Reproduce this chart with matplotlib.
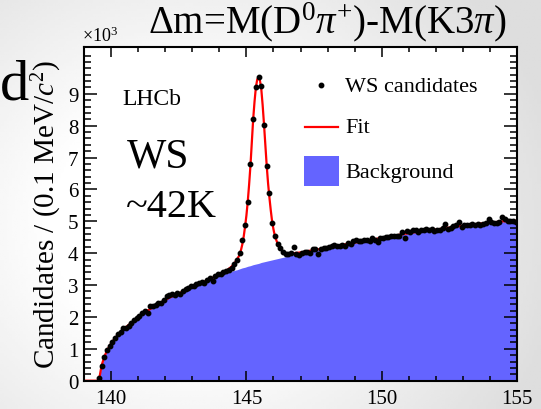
import numpy as np
import matplotlib
matplotlib.use('Agg')
from matplotlib import pyplot as plt
from matplotlib.patches import Rectangle
from matplotlib.lines import Line2D

plt.rcParams['font.family'] = ['Liberation Serif', 'DejaVu Serif']
plt.rcParams['mathtext.fontset'] = 'custom'
plt.rcParams['mathtext.rm'] = 'Liberation Serif'
plt.rcParams['mathtext.it'] = 'Liberation Serif:italic'

# delta m bins of 0.1 MeV from 139 to 155, values in units of 10^3 candidates
dm_lo, dm_hi, bin_w = 139.0, 155.0, 0.1

ws_counts = [
    0, 0, 0, 0, 0, 0.07, 0.45, 0.73, 0.95, 1.08,
    1.23, 1.34, 1.46, 1.54, 1.66, 1.66, 1.71, 1.81, 1.89, 1.97,
    2.04, 2.13, 2.20, 2.13, 2.33, 2.33, 2.37, 2.43, 2.43, 2.52,
    2.65, 2.68, 2.72, 2.68, 2.75, 2.72, 2.83, 2.87, 2.90, 2.96,
    2.98, 3.04, 3.08, 3.11, 3.08, 3.16, 3.23, 3.14, 3.29, 3.34,
    3.34, 3.41, 3.44, 3.48, 3.54, 3.66, 3.79, 4.00, 4.40, 4.90,
    5.60, 6.80, 8.20, 9.20, 9.54, 9.23, 8.02, 6.75, 5.88, 4.95,
    4.55, 4.30, 4.15, 4.04, 3.97, 3.99, 4.02, 4.20, 3.99, 3.95,
    4.02, 4.05, 4.03, 4.02, 4.12, 4.12, 3.97, 4.12, 4.17, 4.15,
    4.18, 4.24, 4.27, 4.22, 4.22, 4.27, 4.22, 4.32, 4.30, 4.37,
    4.42, 4.39, 4.39, 4.41, 4.42, 4.37, 4.47, 4.42, 4.35, 4.47,
    4.49, 4.52, 4.52, 4.55, 4.53, 4.54, 4.55, 4.66, 4.49, 4.70,
    4.68, 4.73, 4.73, 4.68, 4.73, 4.72, 4.76, 4.73, 4.76, 4.70,
    4.74, 4.73, 4.78, 4.93, 4.76, 4.80, 4.85, 4.88, 4.98, 4.83,
    4.90, 4.90, 4.88, 4.93, 4.90, 4.93, 4.90, 4.93, 4.95, 5.06,
    4.98, 4.96, 4.96, 4.97, 5.13, 5.06, 5.02, 5.02, 5.00, 4.98,
]

fit_total = [
    0, 0, 0, 0, 0, 0.0, 0.48, 0.75, 0.95, 1.10,
    1.23, 1.34, 1.44, 1.53, 1.61, 1.68, 1.75, 1.82, 1.89, 1.96,
    2.02, 2.08, 2.14, 2.20, 2.25, 2.30, 2.36, 2.41, 2.46, 2.51,
    2.56, 2.60, 2.64, 2.68, 2.72, 2.76, 2.80, 2.84, 2.88, 2.92,
    2.96, 3.00, 3.04, 3.07, 3.11, 3.15, 3.19, 3.23, 3.27, 3.31,
    3.35, 3.40, 3.45, 3.51, 3.58, 3.67, 3.80, 3.95, 4.28, 4.83,
    5.62, 6.75, 8.20, 9.20, 9.52, 9.15, 8.05, 6.75, 5.75, 5.00,
    4.55, 4.30, 4.15, 4.06, 4.01, 3.99, 3.99, 4.00, 4.01, 4.02,
    4.03, 4.05, 4.06, 4.08, 4.09, 4.11, 4.12, 4.14, 4.15, 4.17,
    4.18, 4.20, 4.22, 4.23, 4.25, 4.26, 4.28, 4.29, 4.31, 4.32,
    4.34, 4.35, 4.37, 4.38, 4.40, 4.41, 4.43, 4.44, 4.46, 4.47,
    4.49, 4.50, 4.52, 4.53, 4.55, 4.56, 4.58, 4.59, 4.61, 4.62,
    4.64, 4.65, 4.66, 4.68, 4.69, 4.70, 4.71, 4.72, 4.73, 4.74,
    4.75, 4.76, 4.78, 4.79, 4.80, 4.81, 4.82, 4.83, 4.85, 4.86,
    4.87, 4.88, 4.89, 4.90, 4.91, 4.92, 4.93, 4.94, 4.95, 4.96,
    4.96, 4.97, 4.98, 4.99, 5.00, 5.00, 5.01, 5.01, 5.02, 5.02,
]

# extra fit samples on the bin edges across the peak
fit_edge_dm = [144.8, 144.9, 145.0, 145.1, 145.2, 145.3, 145.4,
               145.5, 145.6, 145.7, 145.8, 145.9, 146.0, 146.1]
fit_edge = [4.10, 4.52, 5.18, 6.15, 7.50, 8.75, 9.45,
            9.42, 8.65, 7.40, 6.20, 5.35, 4.75, 4.42]

bkg = [
    0, 0, 0, 0, 0, 0.0, 0.48, 0.75, 0.95, 1.10,
    1.23, 1.34, 1.44, 1.53, 1.61, 1.68, 1.75, 1.82, 1.89, 1.96,
    2.02, 2.08, 2.14, 2.20, 2.25, 2.30, 2.36, 2.41, 2.46, 2.51,
    2.56, 2.60, 2.64, 2.68, 2.72, 2.76, 2.80, 2.84, 2.88, 2.92,
    2.96, 3.00, 3.04, 3.07, 3.11, 3.15, 3.19, 3.23, 3.27, 3.31,
    3.31, 3.34, 3.37, 3.40, 3.43, 3.46, 3.48, 3.51, 3.54, 3.56,
    3.59, 3.61, 3.64, 3.66, 3.68, 3.71, 3.73, 3.75, 3.77, 3.79,
    3.81, 3.83, 3.85, 3.87, 3.89, 3.91, 3.93, 3.95, 3.96, 3.98,
    3.99, 4.01, 4.03, 4.05, 4.06, 4.08, 4.10, 4.12, 4.13, 4.15,
    4.16, 4.18, 4.20, 4.21, 4.23, 4.24, 4.26, 4.27, 4.29, 4.30,
    4.32, 4.34, 4.35, 4.37, 4.38, 4.40, 4.41, 4.43, 4.44, 4.46,
    4.48, 4.49, 4.51, 4.52, 4.54, 4.55, 4.57, 4.58, 4.60, 4.61,
    4.63, 4.64, 4.65, 4.67, 4.68, 4.69, 4.70, 4.71, 4.72, 4.73,
    4.74, 4.75, 4.77, 4.78, 4.79, 4.80, 4.81, 4.82, 4.84, 4.85,
    4.86, 4.87, 4.88, 4.89, 4.90, 4.91, 4.92, 4.93, 4.94, 4.95,
    4.95, 4.96, 4.97, 4.98, 4.99, 4.99, 5.00, 5.00, 5.01, 5.01,
]

ws = np.array(ws_counts)
fit = np.array(fit_total)
bg = np.array(bkg)
centers = dm_lo + bin_w / 2 + bin_w * np.arange(len(ws))

blue = '#6464ff'

fig = plt.figure(figsize=(5.41, 4.10), dpi=100)

# slide backdrop: white centre fading to light grey at the edges
bgax = fig.add_axes([0, 0, 1, 1], zorder=-10)
gx, gy = np.meshgrid(np.linspace(0, 1, 200), np.linspace(0, 1, 150))
r = np.hypot((gx - 0.35) / 1.0, (gy - 0.45) / 1.2)
shade = 1.0 - 0.13 * np.clip((r - 0.25) / 0.45, 0, 1)
bgax.imshow(shade, cmap='gray', vmin=0, vmax=1, extent=[0, 1, 0, 1],
            origin='lower', aspect='auto')
bgax.axis('off')

ax = fig.add_axes([0.1553, 0.069, 0.8004, 0.814])
ax.set_facecolor('white')

# background component
xb = np.append(centers, dm_hi)
yb = np.append(bg, bg[-1])
ax.fill_between(xb, 0, yb, color=blue, lw=0, zorder=1)

# total fit
fx = np.concatenate([[dm_lo], centers, fit_edge_dm, [dm_hi]])
fy = np.concatenate([[fit[0]], fit, fit_edge, [fit[-1]]])
order = np.argsort(fx)
ax.plot(fx[order], fy[order], color='red', lw=1.6, zorder=2)

# data
sel = ws > 0
ax.plot(centers[sel], ws[sel], 'o', color='black', ms=3.2, zorder=3)

ax.set_xlim(dm_lo, dm_hi)
ax.set_ylim(0, 10.47)
ax.set_xticks([140, 145, 150, 155])
ax.set_xticks(np.arange(139, 156, 1), minor=True)
ax.set_yticks(np.arange(0, 10, 1))
ax.set_yticks(np.arange(0, 10.4, 0.2), minor=True)
ax.tick_params(which='both', direction='in', top=True, right=True,
               width=1.1, labelsize=15)
ax.tick_params(axis='x', which='major', length=7.2, pad=6)
ax.tick_params(axis='x', which='minor', length=3.6)
ax.tick_params(axis='y', which='major', length=9.4, pad=4)
ax.tick_params(axis='y', which='minor', length=4.7)
for s in ax.spines.values():
    s.set_linewidth(1.5)

ax.set_ylabel(r'Candidates / (0.1 MeV/$c^2$)', fontsize=21, labelpad=3)
ax.text(-0.004, 1.006, r'$\times$10$^{3}$', transform=ax.transAxes,
        fontsize=13, ha='left', va='bottom')

ax.text(0.088, 0.847, 'LHCb', transform=ax.transAxes, fontsize=17,
        ha='left', va='center')
ax.text(0.100, 0.673, 'WS', transform=ax.transAxes, fontsize=30,
        ha='left', va='center')
ax.text(0.097, 0.523, '~42K', transform=ax.transAxes, fontsize=29,
        ha='left', va='center')

# legend
ax.plot([0.547], [0.886], 'o', color='black', ms=3.2, transform=ax.transAxes)
ax.add_line(Line2D([0.510, 0.587], [0.760, 0.760], color='red', lw=1.6,
                   transform=ax.transAxes))
ax.add_patch(Rectangle((0.508, 0.583), 0.081, 0.090, color=blue,
                       transform=ax.transAxes, lw=0))
for yy, lab in [(0.883, 'WS candidates'), (0.760, 'Fit'), (0.625, 'Background')]:
    ax.text(0.603, yy, lab, transform=ax.transAxes, fontsize=16,
            ha='left', va='center')

fig.text(0.605, 0.946, r'$\Delta$m=M(D$^{0}\pi^{+}$)-M(K3$\pi$)', fontsize=28,
         ha='center', va='center')
# letter from the surrounding slide text
fig.text(0.0, 0.758, 'd', fontsize=42, ha='left', va='baseline')

fig.savefig('out.png', dpi=100)
